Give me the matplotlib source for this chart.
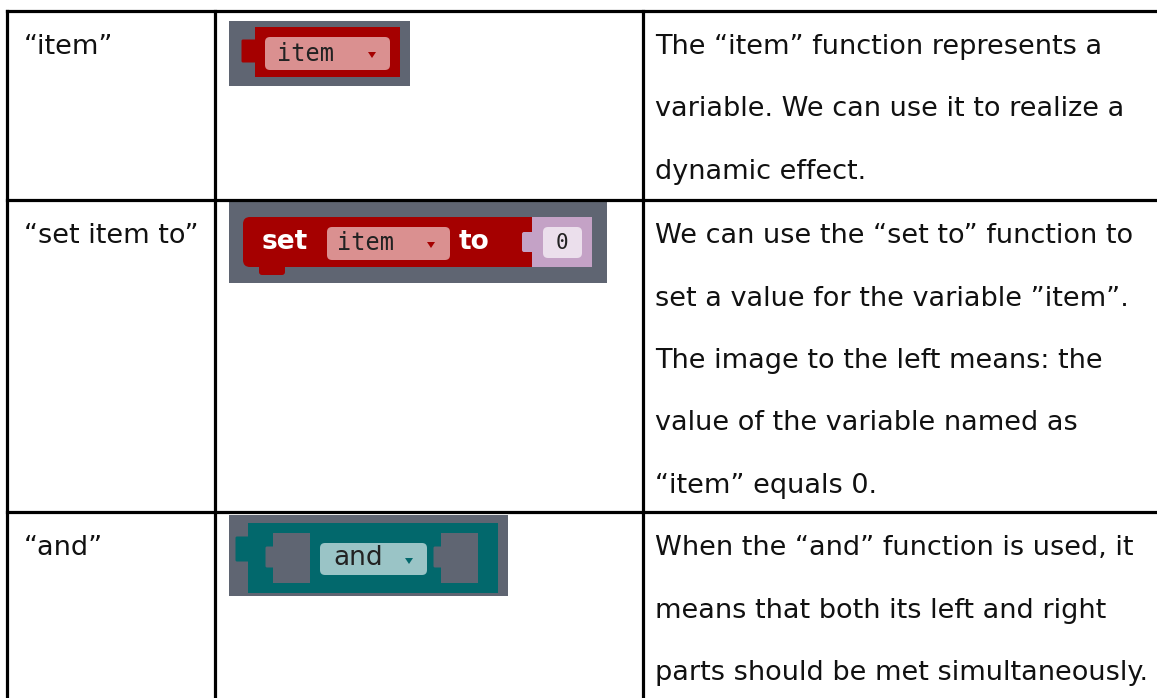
import matplotlib.pyplot as plt
from matplotlib.patches import Rectangle, FancyBboxPatch, Polygon

# table contents
names = ['\u201citem\u201d', '\u201cset item to\u201d', '\u201cand\u201d']
descriptions = [
    ['The \u201citem\u201d function represents a',
     'variable. We can use it to realize a',
     'dynamic effect.'],
    ['We can use the \u201cset to\u201d function to',
     'set a value for the variable \u201ditem\u201d.',
     'The image to the left means: the',
     'value of the variable named as',
     '\u201citem\u201d equals 0.'],
    ['When the \u201cand\u201d function is used, it',
     'means that both its left and right',
     'parts should be met simultaneously.'],
]
row_tops = [11, 200, 512]
col_lines = [7, 215, 643]

W, H = 1157, 698
fig = plt.figure(figsize=(W / 100, H / 100), dpi=100)
ax = fig.add_axes([0, 0, 1, 1])
ax.set_xlim(0, W)
ax.set_ylim(H, 0)
ax.axis('off')

body_font = 'DejaVu Sans'
fs = 19.5
line_gap = 62.5
lw = 2.3

# grid lines
for y in row_tops:
    ax.plot([col_lines[0], W], [y, y], color='black', lw=lw, solid_capstyle='projecting')
for x in col_lines:
    ax.plot([x, x], [row_tops[0], H], color='black', lw=lw, solid_capstyle='projecting')

# text
for i, (nm, desc) in enumerate(zip(names, descriptions)):
    y0 = row_tops[i] + 36
    ax.text(24, y0, nm, fontsize=fs, family=body_font, va='center', ha='left', color='#111111')
    for k, line in enumerate(desc):
        ax.text(655, y0 + k * line_gap, line, fontsize=fs, family=body_font,
                va='center', ha='left', color='#111111')

grey = '#5f6572'
red = '#a50000'
pink = '#da9090'
mono = 'DejaVu Sans Mono'


def field(x0, y0, x1, y1, color):
    ax.add_patch(FancyBboxPatch((x0 + 5, y0 + 5), x1 - x0 - 10, y1 - y0 - 10,
                                boxstyle='round,pad=5', fc=color, ec='none'))


def tri(x, y, color):
    ax.add_patch(Polygon([[x - 4, y - 3], [x + 4, y - 3], [x, y + 3]], closed=True,
                         fc=color, ec='none'))


# block 1: item
ax.add_patch(Rectangle((229, 21), 181, 65, fc=grey, ec='none'))
ax.add_patch(Rectangle((255, 27), 145, 50, fc=red, ec='none'))
ax.add_patch(FancyBboxPatch((243, 41), 14, 20, boxstyle='round,pad=1.5', fc=red, ec='none'))
field(265, 37, 390, 70, pink)
ax.text(277, 54, 'item', fontsize=17, family=mono, va='center', ha='left', color='#222222')
tri(372, 55, red)

# block 2: set item to 0
ax.add_patch(Rectangle((229, 202), 378, 81, fc=grey, ec='none'))
ax.add_patch(FancyBboxPatch((250, 224), 282, 36, boxstyle='round,pad=7', fc=red, ec='none'))
ax.add_patch(FancyBboxPatch((262, 258), 20, 14, boxstyle='round,pad=3', fc=red, ec='none'))
ax.add_patch(Rectangle((532, 217), 60, 50, fc='#c4a2c6', ec='none'))
ax.add_patch(FancyBboxPatch((524, 234), 10, 16, boxstyle='round,pad=2', fc='#c4a2c6', ec='none'))
field(543, 227, 582, 258, '#ebdfec')
ax.text(562, 243, '0', fontsize=15, family=mono, va='center', ha='center', color='#222222')
ax.text(262, 242, 'set', fontsize=19, family='DejaVu Sans', weight='bold',
        va='center', ha='left', color='white')
field(327, 227, 450, 260, pink)
ax.text(337, 243, 'item', fontsize=17, family=mono, va='center', ha='left', color='#222222')
tri(431, 245, red)
ax.text(459, 242, 'to', fontsize=19, family='DejaVu Sans', weight='bold',
        va='center', ha='left', color='white')

# block 3: and
teal = '#02686c'
ax.add_patch(Rectangle((229, 515), 279, 81, fc=grey, ec='none'))
ax.add_patch(Rectangle((248, 523), 250, 70, fc=teal, ec='none'))
ax.add_patch(FancyBboxPatch((237, 538), 13, 22, boxstyle='round,pad=1.5', fc=teal, ec='none'))
for sx in [265, 433]:
    ax.add_patch(Rectangle((sx + 8, 533), 37, 50, fc=grey, ec='none'))
    ax.add_patch(FancyBboxPatch((sx + 2, 548), 8, 18, boxstyle='round,pad=1.5', fc=grey, ec='none'))
field(320, 543, 427, 575, '#9ac4c6')
ax.text(333, 558, 'and', fontsize=19, family='DejaVu Sans', va='center', ha='left', color='#222222')
tri(409, 561, teal)

fig.savefig('out.png', dpi=100)
